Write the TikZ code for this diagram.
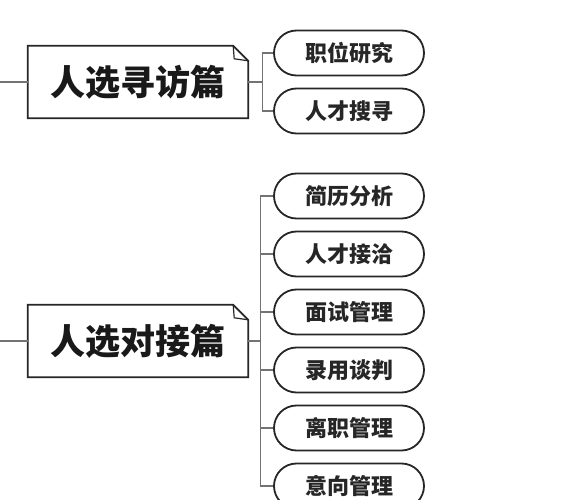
\documentclass[tikz,border=0pt]{standalone}
\usepackage{fontspec}
\newfontfamily\cjk{Noto Sans CJK SC}
\usetikzlibrary{shapes.misc}
\begin{document}
\begin{tikzpicture}[x=1pt,y=-1pt,
  mainbox/.style={minimum width=220pt,minimum height=72pt,inner sep=0pt,font=\cjk\bfseries\fontsize{35}{37}\selectfont,text=black!90},
  pill/.style={rounded rectangle,draw=black!85,line width=1.8pt,minimum width=150pt,minimum height=45pt,inner sep=0pt,font=\cjk\bfseries\fontsize{22}{24}\selectfont,text=black!85},
  conn/.style={draw=black!55,line width=1.4pt},
  foldline/.style={draw=black!85,line width=1.8pt,line join=miter}]
\useasboundingbox (0,0) rectangle (576,500);
\fill[white] (0,0) rectangle (576,500);
% group 1
\node[mainbox] (m1) at (138,82) {人选寻访篇};
\draw[foldline,fill=white] (m1.north west) -- ([xshift=-15pt]m1.north east) -- ([yshift=-15pt]m1.north east) -- (m1.south east) -- (m1.south west) -- cycle;
\draw[black!85,line width=1.2pt] ([xshift=-15pt]m1.north east) -- ([xshift=-14pt,yshift=-13pt]m1.north east) -- ([yshift=-15pt]m1.north east);
\node[mainbox] at (m1) {人选寻访篇};
\coordinate (s1) at (0,82);
\draw[conn] (s1) -- (m1.west);
\node[pill] (p1) at (349,53) {职位研究};
\node[pill] (p2) at (349,111) {人才搜寻};
\foreach \p in {p1,p2} \draw[conn] (m1.east) -- ++(14,0) |- (\p.west);
% group 2
\node[mainbox] (m2) at (138,341) {人选对接篇};
\draw[foldline,fill=white] (m2.north west) -- ([xshift=-15pt]m2.north east) -- ([yshift=-15pt]m2.north east) -- (m2.south east) -- (m2.south west) -- cycle;
\draw[black!85,line width=1.2pt] ([xshift=-15pt]m2.north east) -- ([xshift=-14pt,yshift=-13pt]m2.north east) -- ([yshift=-15pt]m2.north east);
\node[mainbox] at (m2) {人选对接篇};
\coordinate (s2) at (0,341);
\draw[conn] (s2) -- (m2.west);
\node[pill] (q1) at (349,196) {简历分析};
\node[pill] (q2) at (349,254) {人才接洽};
\node[pill] (q3) at (349,312) {面试管理};
\node[pill] (q4) at (349,370) {录用谈判};
\node[pill] (q5) at (349,428) {离职管理};
\node[pill] (q6) at (349,486) {意向管理};
\foreach \p in {q1,q2,q3,q4,q5,q6} \draw[conn] (m2.east) -- ++(12,0) |- (\p.west);
\end{tikzpicture}
\end{document}
